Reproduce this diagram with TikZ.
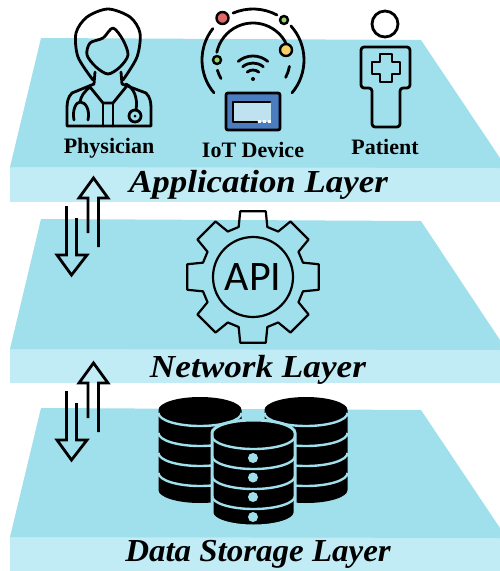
\documentclass[tikz,border=0pt]{standalone}
\usepackage{fontspec}
\setmainfont{Liberation Serif}
\newfontfamily\apifont{Carlito}
\definecolor{platetop}{RGB}{160,224,236}
\definecolor{platefront}{RGB}{193,236,245}
\definecolor{tabletblue}{RGB}{74,124,192}
\definecolor{screenblue}{RGB}{190,226,240}
\definecolor{ledred}{RGB}{226,104,104}
\definecolor{ledgreen}{RGB}{150,214,110}
\definecolor{ledyellow}{RGB}{246,208,100}
\tikzset{
  icon/.style={line width=2.8pt, line join=round, line cap=round},
  actor/.style={font=\bfseries\fontsize{22}{22}\selectfont, anchor=base},
  layername/.style={font=\bfseries\itshape\fontsize{32}{32}\selectfont, anchor=base, transform shape},
}
\begin{document}
\begin{tikzpicture}[x=1pt,y=1pt]
    \useasboundingbox (0,0) rectangle (500,-571);
    \foreach \top/\low/\bot in {38/167/202, 219/349/383, 408/537/571} {
        \fill[platefront] (10,-\low) rectangle (500,-\bot);
        \fill[platetop] (41,-\top) -- (421,-\top-2) -- (500,-\low+9) -- (500,-\low-1) -- (10,-\low) -- cycle;
    }
    % physician
    \draw[icon] plot[smooth] coordinates {(93,-80) (78,-57) (76,-33) (87,-17) (108,-9) (130,-17) (140,-33) (137,-57) (123,-80)};
    \draw[icon] plot[smooth cycle] coordinates {(113,-28) (123,-40) (128,-55) (120,-67) (108,-74) (96,-67) (87,-55) (90,-43) (103,-38)};
    \draw[icon] (95,-72) -- (94,-84) -- (72,-93) .. controls (68,-97) and (67,-102) .. (67,-108) -- (67,-126) -- (151,-126) -- (151,-108) .. controls (151,-102) and (150,-97) .. (146,-93) -- (122,-84) -- (121,-72);
    \draw[icon] (90,-87) -- (103,-103) -- (113,-103) -- (126,-87);
    \draw[icon] (103,-103) -- (103,-126) (113,-103) -- (113,-126);
    \draw[icon] (90,-87) .. controls (84,-92) and (81,-96) .. (80,-102);
    \draw[icon] (74,-120) .. controls (72,-110) and (76,-102) .. (80,-102) .. controls (86,-102) and (90,-110) .. (88,-120);
    \draw[icon] (126,-84) .. controls (134,-88) and (138,-98) .. (136,-110);
    \draw[icon] (135,-116) circle (6);
    \fill (135,-116) circle (1.5);
    \node[actor] (physician) at (109,-153) {Physician};
    % iot device
    \foreach \from/\to in {142/220, 113/62, 42/-40} {
        \draw[icon] (253,-60) ++(\from:51) arc[start angle=\from, end angle=\to, radius=51];
    }
    \foreach \from/\to in {25/168, -10/-28, 196/210} {
        \draw[icon] (253,-60) ++(\from:37) arc[start angle=\from, end angle=\to, radius=37];
    }
    \foreach \rad in {9,16,23} {
        \draw[icon] (253,-79) ++(50:\rad) arc[start angle=50, end angle=130, radius=\rad];
    }
    \fill (253,-79) circle (2);
    \draw[line width=2.4pt, fill=ledred] (222.5,-18) circle (6);
    \draw[line width=2.4pt, fill=ledgreen] (284,-20) circle (4);
    \draw[line width=2.4pt, fill=ledgreen] (217,-60) circle (4);
    \draw[line width=2.4pt, fill=ledyellow] (286,-50) circle (6);
    \draw[line width=2.8pt, fill=tabletblue, rounded corners=2pt] (226,-93) rectangle (280,-130);
    \fill[screenblue] (233,-102) rectangle (271,-122);
    \draw[icon] (257,-122) -- (233,-122) -- (233,-102) -- (270,-102);
    \foreach \px in {258,263,268} {
        \fill[white] (\px,-120) rectangle ++(3,-3);
    }
    \node[actor] (iot) at (253,-157) {IoT Device};
    % patient
    \draw[icon] (385,-24) circle (13);
    \draw[icon, rounded corners=3pt] (372,-127) -- (372,-88) -- (361,-88) -- (361,-47) -- (410,-47) -- (410,-88) -- (400,-88) -- (400,-127) -- cycle;
    \draw[icon] (380,-54) -- (392,-54) -- (392,-62) -- (400,-62) -- (400,-74) -- (392,-74) -- (392,-82) -- (380,-82) -- (380,-74) -- (372,-74) -- (372,-62) -- (380,-62) -- cycle;
    \node[actor] (patient) at (385,-154) {Patient};
    % gear
    \begin{scope}[shift={(253,-277)}]
        \draw[line width=2.2pt, line join=round] (-16:52)
            \foreach \ang in {0,45,...,315} {
                -- (\ang-16:52) -- (\ang-11:67) -- (\ang+11:67) -- (\ang+16:52)
            } -- cycle;
        \draw[line width=2.2pt] (0,0) circle (40);
        \node[font=\apifont\fontsize{42}{42}\selectfont] (api) at (0,0) {API};
    \end{scope}
    % databases
    \foreach \cx/\cy/\halo in {200/410/none, 306/410/none, 253.5/433/platetop} {
        \begin{scope}[shift={(\cx,-\cy)}]
            \draw[line width=3pt, draw=\halo, fill=black] (-41.5,0) arc[start angle=180, end angle=0, x radius=41.5, y radius=13] -- (41.5,-80) arc[start angle=0, end angle=-180, x radius=41.5, y radius=13] -- cycle;
            \foreach \sep in {3,23,43,63} {
                \draw[platetop, line width=2.4pt] (-41.5,-\sep) arc[start angle=180, end angle=360, x radius=41.5, y radius=13];
            }
        \end{scope}
    }
    \foreach \dy in {458,477.5,497,517} {
        \fill[platetop] (253,-\dy) circle (5);
    }
    % arrows
    \foreach \dy in {0,185} {
        \begin{scope}[yshift=-\dy]
            \draw[icon, line cap=butt, miter limit=10, line join=miter] (88,-233) -- (88,-198) -- (79,-198) -- (93.5,-178) -- (108,-198) -- (98.5,-198) -- (98.5,-247);
            \draw[icon, line cap=butt, miter limit=10, line join=miter] (66.5,-206) -- (66.5,-255) -- (57,-255) -- (71.5,-275) -- (87,-255) -- (76.5,-255) -- (76.5,-218);
        \end{scope}
    }
    \node[layername, xscale=1.09] (applayer) at (258.5,-192.5) {Application Layer};
    \node[layername, xscale=1.1] (netlayer) at (258,-377) {Network Layer};
    \node[layername, xscale=1.03] (datalayer) at (258,-561) {Data Storage Layer};
\end{tikzpicture}
\end{document}
